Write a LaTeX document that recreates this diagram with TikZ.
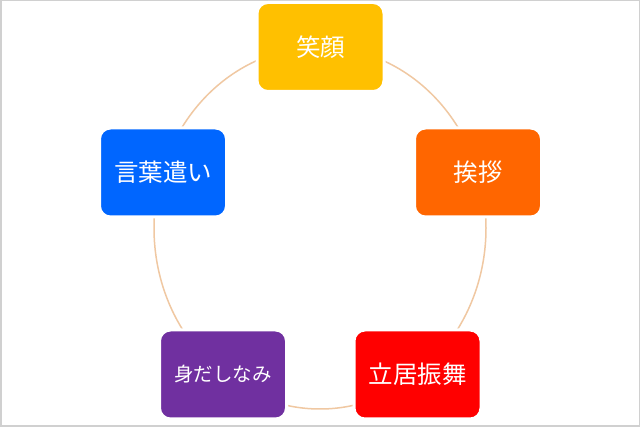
\documentclass[tikz,border=0pt]{standalone}
\usepackage{fontspec}
\setmainfont{Noto Sans CJK JP}
\definecolor{cYellow}{HTML}{FFC000}
\definecolor{cOrange}{HTML}{FF6600}
\definecolor{cBlue}{HTML}{0066FF}
\definecolor{cPurple}{HTML}{7030A0}
\definecolor{cRed}{HTML}{FF0000}
\definecolor{cRing}{HTML}{F0C8A2}
\definecolor{cFrame}{HTML}{D0D0D0}
\tikzset{
  itembox/.style={rectangle, rounded corners=11pt, draw=white, line width=3pt,
    minimum width=127pt, minimum height=89pt, inner sep=0pt, text=white,
    font=\fontsize{24.5}{28}\selectfont},
}
\begin{document}
\begin{tikzpicture}[x=1pt,y=-1pt]
\useasboundingbox (0,0) rectangle (640,427);
\fill[white] (0,0) rectangle (640,427);
\draw[cFrame, line width=1.5pt] (0.75,0.75) rectangle (639.25,426.25);
\draw[cRing, line width=1.5pt] (320,228) ellipse [x radius=166, y radius=181];
\node[itembox, fill=cYellow] (egao) at (320.5,47) {笑顔};
\node[itembox, fill=cOrange] (aisatsu) at (478,172.5) {挨拶};
\node[itembox, fill=cBlue] (kotoba) at (163,172.5) {言葉遣い};
\node[itembox, fill=cPurple, font=\fontsize{19.5}{22}\selectfont] (midashi) at (223,374.5) {身だしなみ};
\node[itembox, fill=cRed] (tachii) at (417.5,374.5) {立居振舞};
\end{tikzpicture}
\end{document}
